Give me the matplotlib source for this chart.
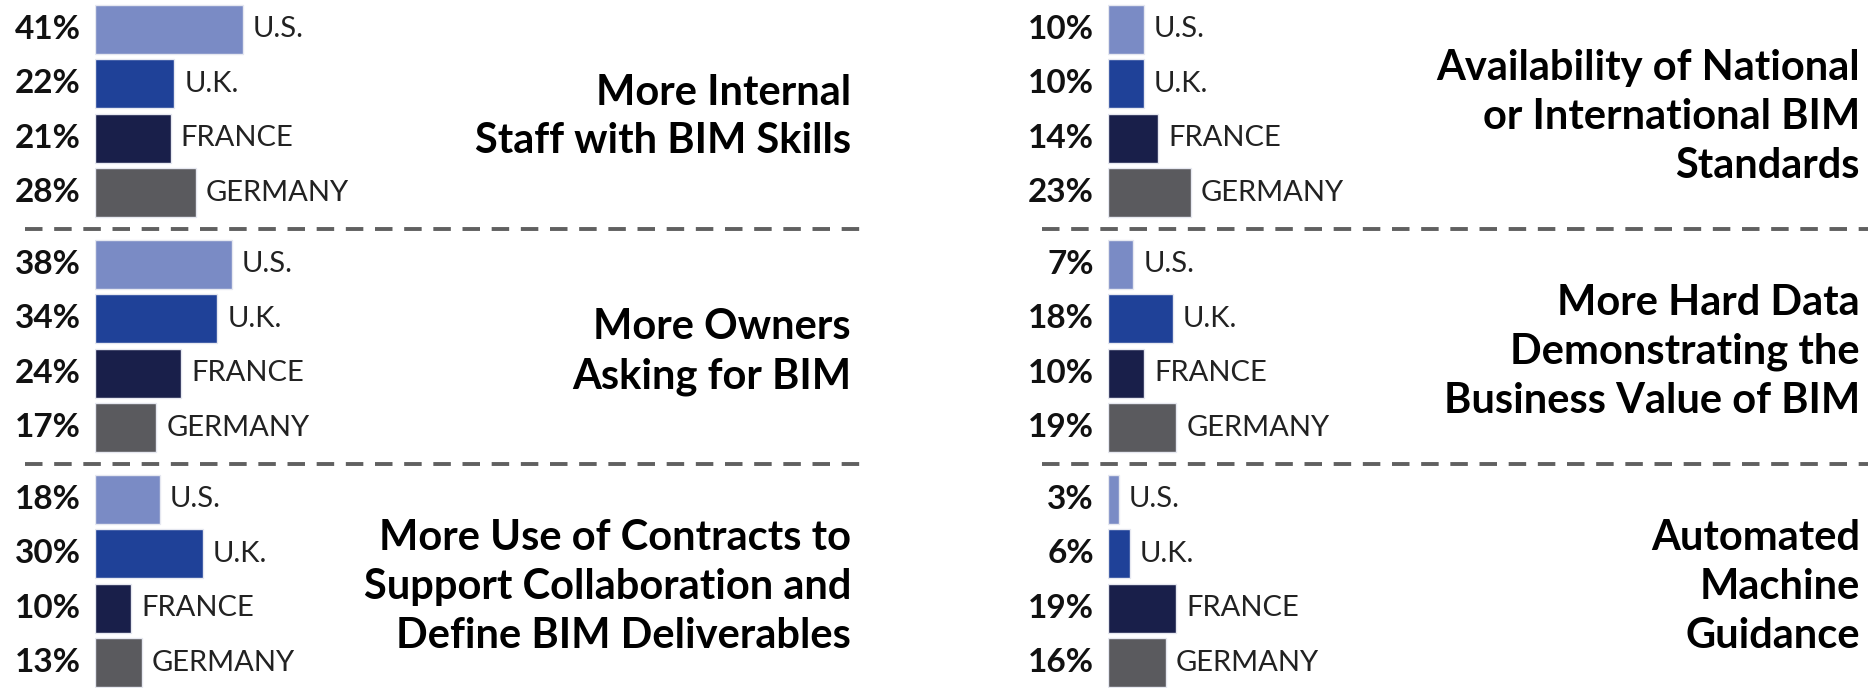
import matplotlib
matplotlib.use('Agg')
import matplotlib.pyplot as plt

# ── Данные ──────────────────────────────────────────────
countries = ['U.S.', 'U.K.', 'FRANCE', 'GERMANY']
colors    = ['#7a8bc5', '#1f4198', '#191f4a', '#5a5a5e']

staff_skills     = [41, 22, 21, 28]
owners_asking    = [38, 34, 24, 17]
contracts        = [18, 30, 10, 13]
standards        = [10, 10, 14, 23]
hard_data        = [7, 18, 10, 19]
machine_guidance = [3, 6, 19, 16]

left_titles = ['More Internal\nStaff with BIM Skills',
               'More Owners\nAsking for BIM',
               'More Use of Contracts to\nSupport Collaboration and\nDefine BIM Deliverables']
right_titles = ['Availability of National\nor International BIM\nStandards',
                'More Hard Data\nDemonstrating the\nBusiness Value of BIM',
                'Automated\nMachine\nGuidance']
left_values  = [staff_skills, owners_asking, contracts]
right_values = [standards, hard_data, machine_guidance]

# ── Разметка (пиксели) ──────────────────────────────────
W, H = 1868, 688
PX_PER_PCT = 3.6
ROW_TOPS = [2, 237, 472]
ROW_H = 218
COLS = [(95, 851, 25), (1108, 1860, 1042)]   # bar start, right edge, dash start

plt.rcParams['font.family'] = ['Lato', 'DejaVu Sans']

fig = plt.figure(figsize=(W / 100, H / 100), dpi=100)
fig.patch.set_facecolor('white')


def draw_panel(ax, values, title, dash_x0, width_px, last_row):
    ax.barh(range(4), values, height=0.9, color=colors,
            edgecolor='#e6e8f0', linewidth=1.0)
    ax.set_ylim(3.5, -0.5)
    ax.set_xlim(0, width_px / PX_PER_PCT)
    ax.axis('off')
    for i, v in enumerate(values):
        ax.annotate(f'{v}%', xy=(0, i), xytext=(-14, 0), textcoords='offset pixels',
                    ha='right', va='center', fontsize=24, fontweight='bold', color='#111111')
        ax.annotate(countries[i], xy=(v, i), xytext=(10, 0), textcoords='offset pixels',
                    ha='left', va='center', fontsize=21, color='#222222')
    ax.text(1.0, 0.5 - 6 / ROW_H, title, transform=ax.transAxes, ha='right', va='center',
            multialignment='right', fontsize=30, fontweight='bold', color='#000000',
            linespacing=1.34)
    if not last_row:
        x0 = -dash_x0 / width_px
        yy = -8.5 / ROW_H
        ax.plot([x0, 1.0 + 12 / width_px], [yy, yy], transform=ax.transAxes, clip_on=False,
                color='#606060', linewidth=2.8, linestyle=(0, (4.5, 3.0)))


for col, (x0, x1, dx0) in enumerate(COLS):
    vals = left_values if col == 0 else right_values
    tits = left_titles if col == 0 else right_titles
    for r in range(3):
        top = ROW_TOPS[r]
        ax = fig.add_axes([x0 / W, 1 - (top + ROW_H) / H, (x1 - x0) / W, ROW_H / H])
        draw_panel(ax, vals[r], tits[r], x0 - dx0, x1 - x0, r == 2)

fig.savefig('out.png', dpi=100, facecolor='white')
